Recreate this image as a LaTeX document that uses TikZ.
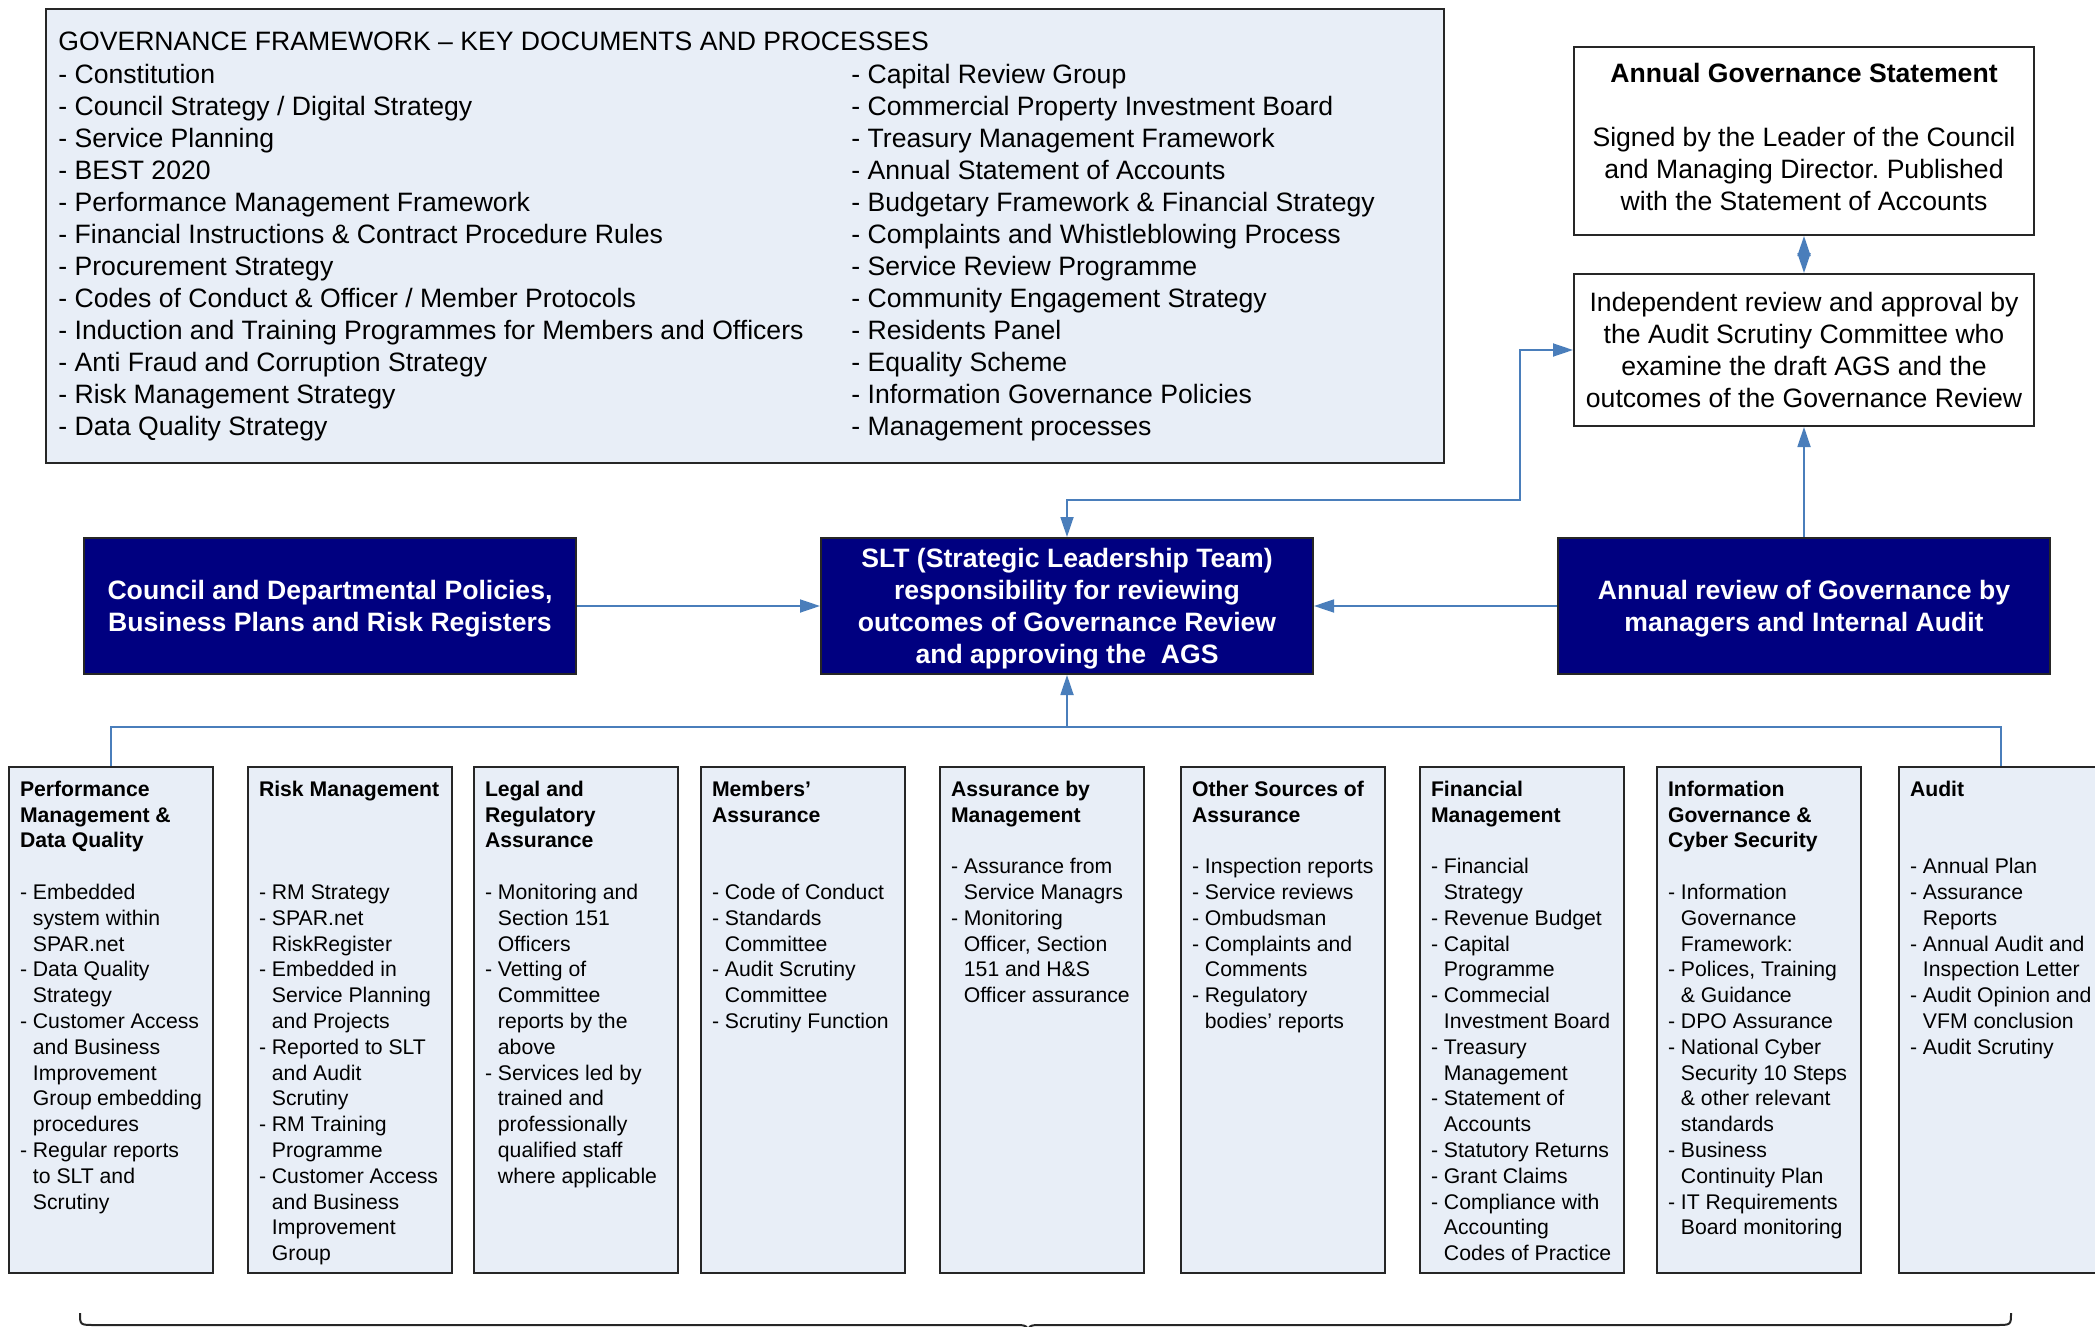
\documentclass[tikz,border=0pt]{standalone}
\usepackage{fontspec}
\setmainfont{Liberation Sans}
\usetikzlibrary{arrows.meta}

\definecolor{paleblue}{HTML}{E8EEF7}
\definecolor{navyfill}{HTML}{000080}
\definecolor{linkblue}{HTML}{4A7EBB}
\definecolor{boxline}{HTML}{262626}

% indent for continued list lines
\newcommand{\ind}{\hphantom{- }}
% centred lines, nudged up or down inside the box
\newcommand{\nudged}[2]{\raisebox{#1}[\height][\depth]{\begin{tabular}{@{}c@{}}#2\end{tabular}}}
\frenchspacing

\begin{document}
\begin{tikzpicture}[x=0.5pt, y=-0.5pt,
    docbox/.style = {draw=boxline, line width=1pt, fill=paleblue,
        minimum width=699pt, minimum height=227pt},
    doctext/.style = {inner sep=0pt, align=left,
        font=\fontsize{13.3pt}{16pt}\selectfont},
    whitebox/.style = {draw=boxline, line width=1pt, fill=white,
        align=center, inner sep=0pt, minimum width=230pt,
        font=\fontsize{13.3pt}{16pt}\selectfont},
    navybox/.style = {draw=boxline, line width=1pt, fill=navyfill,
        text=white, align=center, inner sep=0pt,
        minimum width=246pt, minimum height=68pt,
        font=\bfseries\fontsize{13.3pt}{16pt}\selectfont},
    assure/.style = {draw=boxline, line width=1pt, fill=paleblue,
        anchor=north west, inner xsep=5.5pt, inner ysep=7pt,
        font=\fontsize{10.6pt}{12.9pt}\selectfont},
    link/.style = {draw=linkblue, line width=0.9pt},
    tip/.style = {-{Triangle[length=10pt,width=6.5pt]}}]

\useasboundingbox (0,0) rectangle (2095,1327);

% Key documents
\node[docbox] (docs) at (745,236) {};
\node[doctext, anchor=base west] (docshead) at (58,51)
    {GOVERNANCE FRAMEWORK – KEY DOCUMENTS AND PROCESSES};
\node[doctext, anchor=north west] (docsleft) at (58,64)
    {- Constitution\\
     - Council Strategy / Digital Strategy\\
     - Service Planning\\
     - BEST 2020\\
     - Performance Management Framework\\
     - Financial Instructions \& Contract Procedure Rules\\
     - Procurement Strategy\\
     - Codes of Conduct \& Officer / Member Protocols\\
     - Induction and Training Programmes for Members and Officers\\
     - Anti Fraud and Corruption Strategy\\
     - Risk Management Strategy\\
     - Data Quality Strategy};
\node[doctext, anchor=north west] (docsright) at (851,64)
    {- Capital Review Group\\
     - Commercial Property Investment Board\\
     - Treasury Management Framework\\
     - Annual Statement of Accounts\\
     - Budgetary Framework \& Financial Strategy\\
     - Complaints and Whistleblowing Process\\
     - Service Review Programme\\
     - Community Engagement Strategy\\
     - Residents Panel\\
     - Equality Scheme\\
     - Information Governance Policies\\
     - Management processes};

% AGS and review
\node[whitebox, minimum height=94pt] (ags) at (1804,141)
    {\nudged{0.5pt}{\textbf{Annual Governance Statement}\\[16pt]
     Signed by the Leader of the Council\\
     and Managing Director. Published\\
     with the Statement of Accounts}};
\node[whitebox, minimum height=76pt] (review) at (1804,350)
    {Independent review and approval by\\
     the Audit Scrutiny Committee who\\
     examine the draft AGS and the\\
     outcomes of the Governance Review};

% Middle row
\node[navybox] (council) at (330,606)
    {\nudged{-1.5pt}{Council and Departmental Policies,\\Business Plans and Risk Registers}};
\node[navybox] (slt) at (1067,606)
    {\nudged{-1.5pt}{SLT (Strategic Leadership Team)\\responsibility for reviewing\\
     outcomes of Governance Review\\and approving the \ AGS}};
\node[navybox] (annual) at (1804,606)
    {\nudged{-1.5pt}{Annual review of Governance by\\managers and Internal Audit}};

% Sources of assurance
\node[assure] (perf) at (8,766) {\parbox[c][239pt][t]{91pt}{\raggedright
    \textbf{Performance\\Management \&\\Data Quality}\\[12.9pt]
    - Embedded\\\ind system within\\\ind SPAR.net\\
    - Data Quality\\\ind Strategy\\
    - Customer Access\\\ind and Business\\\ind Improvement\\
    \ind Group embedding\\\ind procedures\\
    - Regular reports\\\ind to SLT and\\\ind Scrutiny}};
\node[assure] (risk) at (247,766) {\parbox[c][239pt][t]{91pt}{\raggedright
    \textbf{Risk Management}\\[38.7pt]
    - RM Strategy\\
    - SPAR.net\\\ind RiskRegister\\
    - Embedded in\\\ind Service Planning\\\ind and Projects\\
    - Reported to SLT\\\ind and Audit\\\ind Scrutiny\\
    - RM Training\\\ind Programme\\
    - Customer Access\\\ind and Business\\\ind Improvement\\\ind Group}};
\node[assure] (legal) at (473,766) {\parbox[c][239pt][t]{91pt}{\raggedright
    \textbf{Legal and\\Regulatory\\Assurance}\\[12.9pt]
    - Monitoring and\\\ind Section 151\\\ind Officers\\
    - Vetting of\\\ind Committee\\\ind reports by the\\\ind above\\
    - Services led by\\\ind trained and\\\ind professionally\\
    \ind qualified staff\\\ind where applicable}};
\node[assure] (members) at (700,766) {\parbox[c][239pt][t]{91pt}{\raggedright
    \textbf{Members’\\Assurance}\\[25.8pt]
    - Code of Conduct\\
    - Standards\\\ind Committee\\
    - Audit Scrutiny\\\ind Committee\\
    - Scrutiny Function}};
\node[assure] (mgmt) at (939,766) {\parbox[c][239pt][t]{91pt}{\raggedright
    \textbf{Assurance by\\Management}\\[12.9pt]
    - Assurance from\\\ind Service Managrs\\
    - Monitoring\\\ind Officer, Section\\\ind 151 and H\&S\\
    \ind Officer assurance}};
\node[assure] (other) at (1180,766) {\parbox[c][239pt][t]{91pt}{\raggedright
    \textbf{Other Sources of\\Assurance}\\[12.9pt]
    - Inspection reports\\
    - Service reviews\\
    - Ombudsman\\
    - Complaints and\\\ind Comments\\
    - Regulatory\\\ind bodies’ reports}};
\node[assure] (finance) at (1419,766) {\parbox[c][239pt][t]{91pt}{\raggedright
    \textbf{Financial\\Management}\\[12.9pt]
    - Financial\\\ind Strategy\\
    - Revenue Budget\\
    - Capital\\\ind Programme\\
    - Commecial\\\ind Investment Board\\
    - Treasury\\\ind Management\\
    - Statement of\\\ind Accounts\\
    - Statutory Returns\\
    - Grant Claims\\
    - Compliance with\\\ind Accounting\\\ind Codes of Practice}};
\node[assure] (infogov) at (1656,766) {\parbox[c][239pt][t]{91pt}{\raggedright
    \textbf{Information\\Governance \&\\Cyber Security}\\[12.9pt]
    - Information\\\ind Governance\\\ind Framework:\\
    - Polices, Training\\\ind \& Guidance\\
    - DPO Assurance\\
    - National Cyber\\\ind Security 10 Steps\\\ind \& other relevant\\
    \ind standards\\
    - Business\\\ind Continuity Plan\\
    - IT Requirements\\\ind Board monitoring}};
\node[assure] (audit) at (1898,766) {\parbox[c][239pt][t]{91pt}{\raggedright
    \textbf{Audit}\\[25.8pt]
    - Annual Plan\\
    - Assurance\\\ind Reports\\
    - Annual Audit and\\\ind Inspection Letter\\
    - Audit Opinion and\\\ind VFM conclusion\\
    - Audit Scrutiny}};

% Connectors
\coordinate (kink) at (1520,500);
\coordinate (bus) at (1067,727);
\draw[link, tip] (council) -- (slt);
\draw[link, tip] (annual) -- (slt);
\draw[link, tip] (annual) -- (review);
\draw[link, {Triangle[length=10pt,width=6.5pt]}-{Triangle[length=10pt,width=6.5pt]}]
    (ags) -- (review);
\draw[link, {Triangle[length=10pt,width=6.5pt]}-{Triangle[length=10pt,width=6.5pt]}]
    (slt.north) |- (kink) |- (review.west);
\draw[link] (perf.north) |- (bus) -| (audit.north);
\draw[link, tip] (bus) -- (slt);

% Brace
\draw[line width=1pt, boxline] (80,1313) .. controls (80,1325) .. (95,1325)
    -- (1013,1325) .. controls (1028,1325) .. (1028,1338)
    .. controls (1028,1325) .. (1043,1325) -- (1996,1325)
    .. controls (2011,1325) .. (2011,1313);
\end{tikzpicture}
\end{document}
